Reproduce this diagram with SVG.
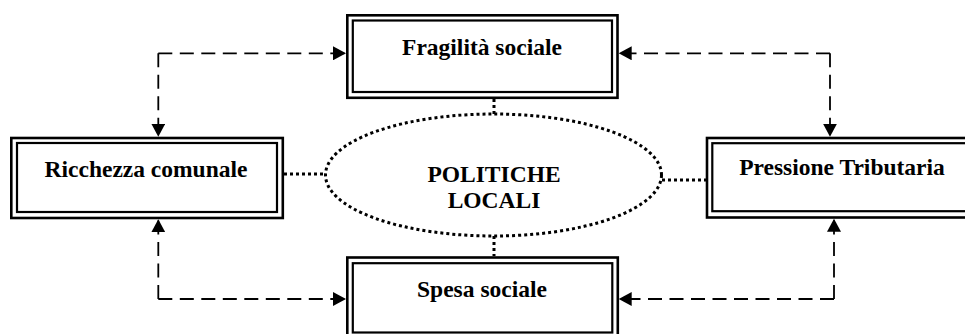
<svg xmlns="http://www.w3.org/2000/svg" width="965" height="334" viewBox="0 0 965 334">
<style>
.outer{fill:none;stroke:#000;stroke-width:2.6}
.inner{fill:none;stroke:#000;stroke-width:2.2}
.lbl{font-family:"Liberation Serif","Times New Roman",serif;font-weight:bold;font-size:23.5px;fill:#000;text-anchor:middle}
.dash{fill:none;stroke:#000;stroke-width:1.8;stroke-dasharray:14 7.5}
.dot{fill:none;stroke:#000;stroke-width:3;stroke-dasharray:3 3}
</style>
<defs>
<marker id="arr" markerUnits="userSpaceOnUse" markerWidth="14" markerHeight="14" refX="13" refY="7" orient="auto">
<path d="M0,0 L13,7 L0,14 Z" fill="#000"/>
</marker>
</defs>
<rect width="965" height="334" fill="#fff"/>
<g id="connectors">
<path class="dash" d="M158.3,53.3 H346" marker-end="url(#arr)"/>
<path class="dash" d="M158.3,53.3 V136.7" marker-end="url(#arr)"/>
<path class="dash" d="M830,53.3 H618.7" marker-end="url(#arr)"/>
<path class="dash" d="M830,53.3 V136.7" marker-end="url(#arr)"/>
<path class="dash" d="M158.3,299 V219.3" marker-end="url(#arr)"/>
<path class="dash" d="M158.3,299 H346" marker-end="url(#arr)"/>
<path class="dash" d="M834,299 V218.7" marker-end="url(#arr)"/>
<path class="dash" d="M834,299 H618.7" marker-end="url(#arr)"/>
<path class="dot" d="M284,174 H325"/>
<path class="dot" d="M662,180 H706"/>
<path class="dot" d="M494,99 V114"/>
<path class="dot" d="M494,236 V256"/>
</g>
<g id="fragilita">
<rect class="outer" x="347.3" y="15.3" width="270.2" height="82.5"/>
<rect class="inner" x="352.8" y="20.5" width="259.2" height="71.5"/>
<text class="lbl" x="482" y="55">Fragilità sociale</text>
</g>
<g id="ricchezza">
<rect class="outer" x="11.3" y="138" width="271.5" height="80"/>
<rect class="inner" x="17" y="143" width="260" height="69"/>
<text class="lbl" x="146" y="177">Ricchezza comunale</text>
</g>
<g id="pressione">
<rect class="outer" x="707" y="138" width="272" height="79.5"/>
<rect class="inner" x="712.3" y="143.2" width="262" height="68"/>
<text class="lbl" x="842" y="175">Pressione Tributaria</text>
</g>
<g id="spesa">
<rect class="outer" x="347.3" y="257.5" width="270.5" height="81"/>
<rect class="inner" x="352.8" y="263.2" width="259.5" height="69.3"/>
<text class="lbl" x="482" y="296.7">Spesa sociale</text>
</g>
<g id="politiche">
<ellipse class="dot" cx="493.5" cy="175" rx="168" ry="61"/>
<text class="lbl" x="494" y="181.7">POLITICHE</text>
<text class="lbl" x="494" y="208.3">LOCALI</text>
</g>
</svg>
